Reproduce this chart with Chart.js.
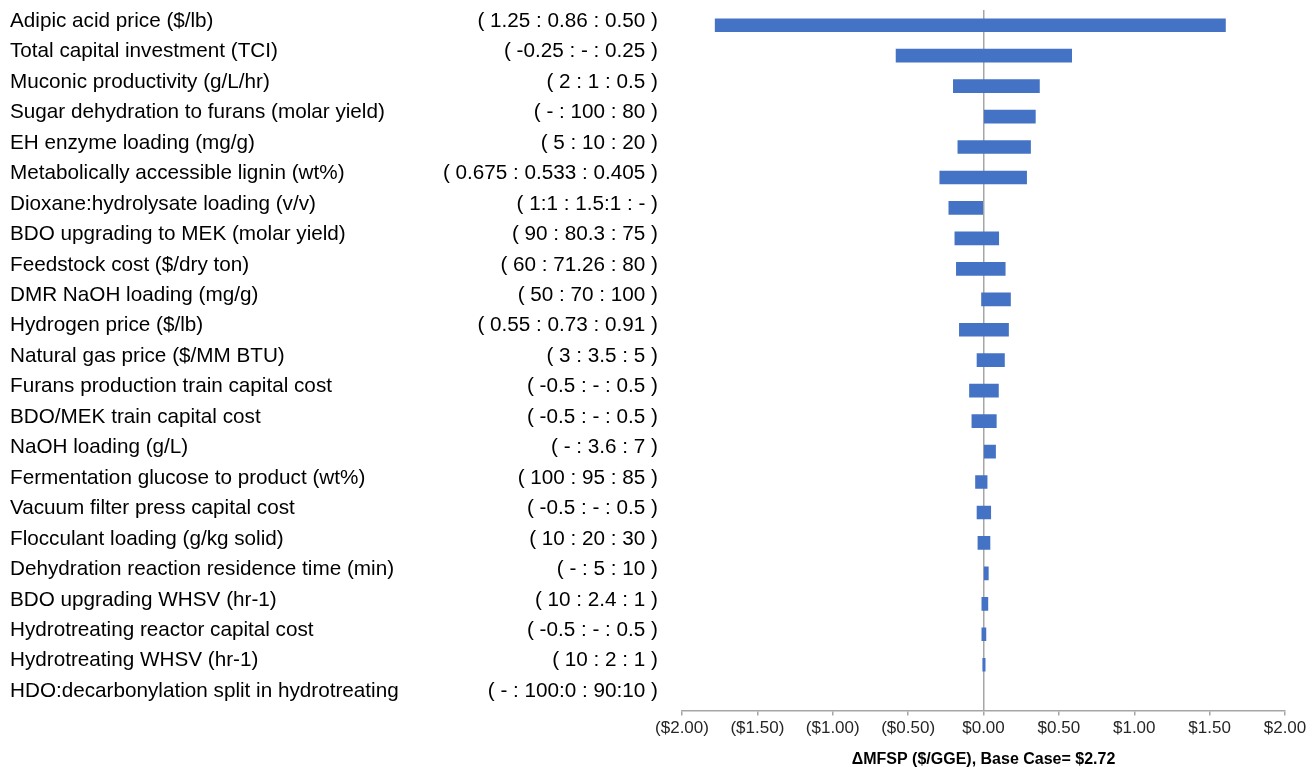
<!DOCTYPE html>
<html lang="en">
<head>
  <meta charset="UTF-8">
  <title>MFSP sensitivity tornado</title>
  <script src="https://cdn.jsdelivr.net/npm/chart.js"></script>
  <style>
    body { margin: 0; background: #fff; }
    .chart-box { position: relative; width: 1314px; height: 767px; }
  </style>
</head>
<body>
  <div class="chart-box">
    <canvas id="tornado"></canvas>
  </div>

  <script>
    const parameters = [
      'Adipic acid price ($/lb)',
      'Total capital investment (TCI)',
      'Muconic productivity (g/L/hr)',
      'Sugar dehydration to furans (molar yield)',
      'EH enzyme loading (mg/g)',
      'Metabolically accessible lignin (wt%)',
      'Dioxane:hydrolysate loading (v/v)',
      'BDO upgrading to MEK (molar yield)',
      'Feedstock cost ($/dry ton)',
      'DMR NaOH loading (mg/g)',
      'Hydrogen price ($/lb)',
      'Natural gas price ($/MM BTU)',
      'Furans production train capital cost',
      'BDO/MEK train capital cost',
      'NaOH loading (g/L)',
      'Fermentation glucose to product (wt%)',
      'Vacuum filter press capital cost',
      'Flocculant loading (g/kg solid)',
      'Dehydration reaction residence time (min)',
      'BDO upgrading WHSV (hr-1)',
      'Hydrotreating reactor capital cost',
      'Hydrotreating WHSV (hr-1)',
      'HDO:decarbonylation split in hydrotreating'
    ];

    const ranges = [
      '( 1.25 : 0.86 : 0.50 )',
      '( -0.25 : - : 0.25 )',
      '( 2 : 1 : 0.5 )',
      '( - : 100 : 80 )',
      '( 5 : 10 : 20 )',
      '( 0.675 : 0.533 : 0.405 )',
      '( 1:1 : 1.5:1 : - )',
      '( 90 : 80.3 : 75 )',
      '( 60 : 71.26 : 80 )',
      '( 50 : 70 : 100 )',
      '( 0.55 : 0.73 : 0.91 )',
      '( 3 : 3.5 : 5 )',
      '( -0.5 : - : 0.5 )',
      '( -0.5 : - : 0.5 )',
      '( - : 3.6 : 7 )',
      '( 100 : 95 : 85 )',
      '( -0.5 : - : 0.5 )',
      '( 10 : 20 : 30 )',
      '( - : 5 : 10 )',
      '( 10 : 2.4 : 1 )',
      '( -0.5 : - : 0.5 )',
      '( 10 : 2 : 1 )',
      '( - : 100:0 : 90:10 )'
    ];

    // change in MFSP ($/GGE) at low / high end of each range
    const lowDelta = [-1.78, -0.58, -0.20, 0, -0.17, -0.29, -0.23, -0.19, -0.18, -0.013, -0.16, -0.043,
                      -0.093, -0.077, 0, -0.053, -0.043, -0.037, 0, -0.011, -0.011, -0.005, 0];
    const highDelta = [1.605, 0.585, 0.371, 0.344, 0.312, 0.286, 0, 0.101, 0.144, 0.179, 0.166, 0.139,
                       0.099, 0.085, 0.080, 0.024, 0.048, 0.043, 0.032, 0.029, 0.016, 0.011, 0];

    const xTicks = [-2, -1.5, -1, -0.5, 0, 0.5, 1, 1.5, 2];

    const bars = parameters.map((p, i) =>
      (lowDelta[i] === 0 && highDelta[i] === 0) ? null : [lowDelta[i], highDelta[i]]);

    function money(v) {
      return v < 0 ? '($' + Math.abs(v).toFixed(2) + ')' : '$' + v.toFixed(2);
    }

    const sans = '"Liberation Sans", Arial, sans-serif';
    const labelFont = { family: sans, size: 20.7 };

    // keep the category axes from padding the chart area top/bottom
    function fixWidth(w) {
      return axis => {
        axis.width = w;
        axis.paddingTop = 0;
        axis.paddingBottom = 0;
      };
    }

    new Chart(document.getElementById('tornado'), {
      type: 'bar',
      data: {
        labels: parameters,
        datasets: [{
          data: bars,
          backgroundColor: '#4472C4',
          borderWidth: 0,
          barThickness: 13,
          yAxisID: 'y'
        }]
      },
      options: {
        indexAxis: 'y',
        responsive: true,
        maintainAspectRatio: false,
        animation: false,
        layout: { padding: { left: 10, right: 29, top: 10, bottom: 0 } },
        plugins: {
          legend: { display: false },
          tooltip: { enabled: false }
        },
        scales: {
          x: {
            type: 'linear',
            min: -2,
            max: 2,
            afterBuildTicks: axis => { axis.ticks = xTicks.map(v => ({ value: v })); },
            ticks: {
              callback: v => money(v),
              color: '#262626',
              padding: 3,
              font: { family: sans, size: 17 }
            },
            grid: {
              color: c => (c.tick && c.tick.value === 0) ? '#a6a6a6' : 'rgba(0,0,0,0)',
              tickColor: '#a6a6a6',
              tickLength: 5,
              lineWidth: 1.5
            },
            border: { display: true, color: '#a6a6a6', width: 1.5 },
            title: {
              display: true,
              text: '\u0394MFSP ($/GGE), Base Case= $2.72',
              color: '#000',
              padding: { top: 8, bottom: -2 },
              font: { family: sans, size: 16, weight: 'bold' }
            }
          },
          y: {
            type: 'category',
            position: 'left',
            weight: 2,
            offset: true,
            grid: { display: false, drawTicks: false },
            border: { display: false },
            afterFit: fixWidth(415),
            ticks: {
              autoSkip: false,
              crossAlign: 'far',
              labelOffset: -4,
              padding: 0,
              color: '#000',
              font: labelFont
            }
          },
          y2: {
            type: 'category',
            position: 'left',
            weight: 1,
            offset: true,
            labels: ranges,
            grid: { display: false, drawTicks: false },
            border: { display: false },
            afterFit: fixWidth(257),
            ticks: {
              autoSkip: false,
              crossAlign: 'near',
              labelOffset: -4,
              padding: 24,
              color: '#000',
              font: labelFont
            }
          }
        }
      }
    });
  </script>
</body>
</html>
